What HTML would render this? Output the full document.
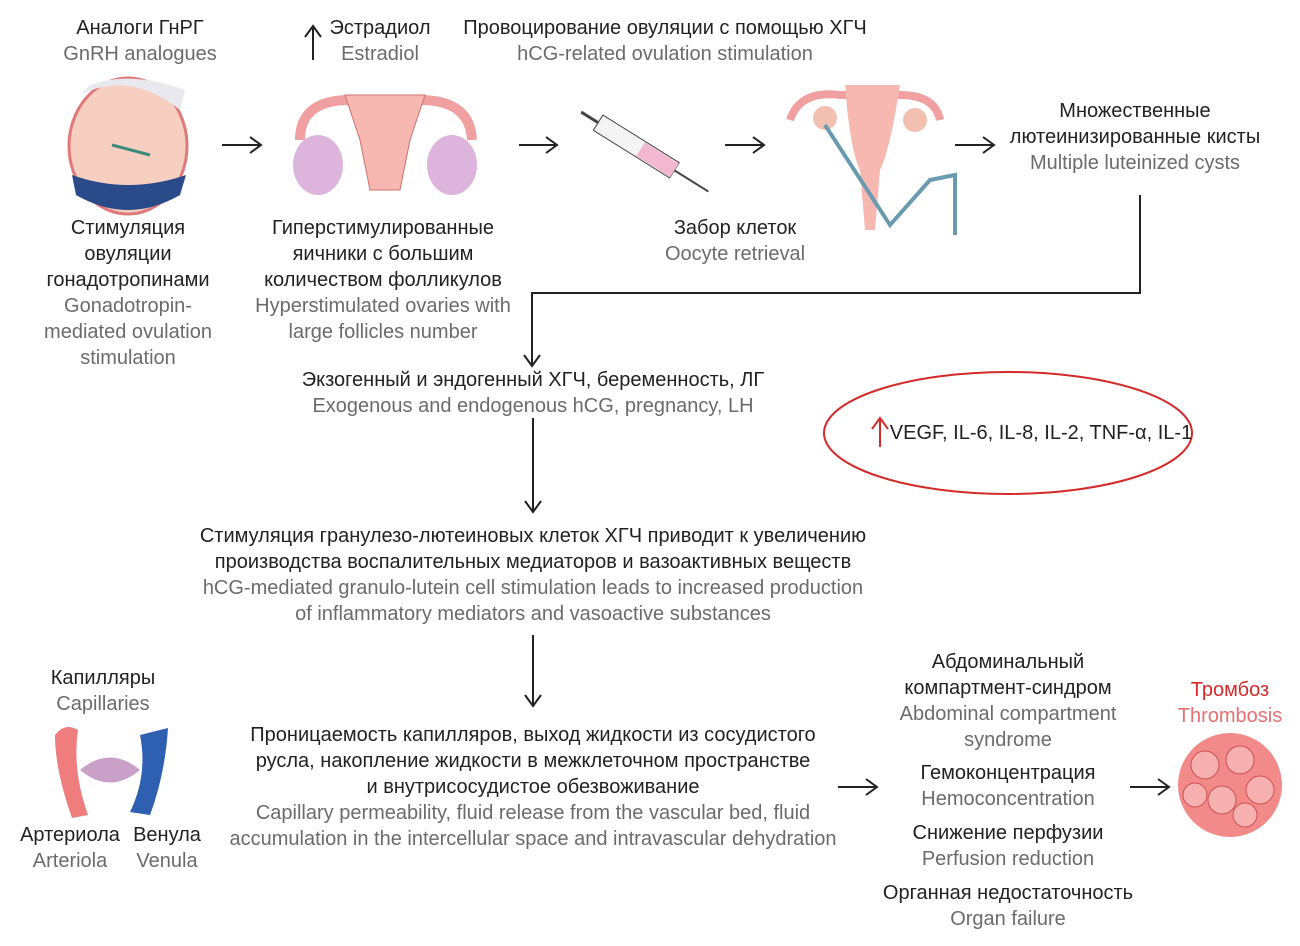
<!DOCTYPE html>
<html><head><meta charset="utf-8">
<style>
body{margin:0;width:1300px;height:946px;background:#fff;position:relative;overflow:hidden;font-family:"Liberation Sans Narrow","Liberation Sans",sans-serif;font-size:20px;color:#222}
.t{position:absolute;text-align:center;line-height:26px;white-space:nowrap;transform:translateX(-50%)}
.g{color:#6b6b6b}
svg{position:absolute;left:0;top:0}
</style></head><body>
<svg width="1300" height="946" viewBox="0 0 1300 946">
<defs><marker id="a" markerWidth="16" markerHeight="18" refX="13" refY="9" orient="auto" markerUnits="userSpaceOnUse"><path d="M2,1 L13,9 L2,17" fill="none" stroke="#222" stroke-width="2"/></marker></defs>
<g stroke="#222" stroke-width="2" fill="none">
<line x1="222" y1="145" x2="261" y2="145" marker-end="url(#a)"/>
<line x1="519" y1="145" x2="557" y2="145" marker-end="url(#a)"/>
<line x1="725" y1="145" x2="764" y2="145" marker-end="url(#a)"/>
<line x1="955" y1="145" x2="994" y2="145" marker-end="url(#a)"/>
<polyline points="1140,195 1140,293 532,293 532,366" marker-end="url(#a)"/>
<line x1="533" y1="418" x2="533" y2="512" marker-end="url(#a)"/>
<line x1="533" y1="635" x2="533" y2="706" marker-end="url(#a)"/>
<line x1="838" y1="787" x2="877" y2="787" marker-end="url(#a)"/>
<line x1="1130" y1="787" x2="1169" y2="787" marker-end="url(#a)"/>
<line x1="313" y1="60" x2="313" y2="27"/><path d="M305,37 L313,26 L321,37"/>
</g>
<ellipse cx="1008" cy="433" rx="184" ry="61" fill="none" stroke="#d42a2a" stroke-width="2"/>
<g stroke="#d42a2a" stroke-width="2" fill="none"><line x1="880" y1="447" x2="880" y2="419"/><path d="M872,429 L880,418 L888,429"/></g>
<!-- woman -->
<ellipse cx="128" cy="146" rx="59" ry="68" fill="#f6cfc0" stroke="#e07a7a" stroke-width="3"/>
<path d="M72,175 Q128,195 186,175 L180,195 Q128,225 76,195Z" fill="#2a4a8a"/>
<path d="M80,95 Q130,70 180,110 L185,90 Q130,70 90,85Z" fill="#e8e8ee"/>
<line x1="112" y1="145" x2="150" y2="155" stroke="#3a8a7a" stroke-width="3"/>
<!-- uterus -->
<path d="M300,140 Q300,100 350,100 L420,100 Q470,100 472,140" fill="none" stroke="#f0a0a0" stroke-width="10"/>
<path d="M345,95 L425,95 L410,140 L400,190 L370,190 L360,140Z" fill="#f6b8b0" stroke="#d07070"/>
<ellipse cx="318" cy="165" rx="25" ry="30" fill="#dcb4dc"/>
<ellipse cx="452" cy="165" rx="25" ry="30" fill="#dcb4dc"/>
<!-- syringe -->
<g transform="rotate(32 640 150)"><rect x="590" y="140" width="90" height="18" fill="#f4f4f4" stroke="#444"/><rect x="640" y="141" width="40" height="16" fill="#f2b8d0"/><line x1="680" y1="149" x2="720" y2="149" stroke="#444" stroke-width="2"/><line x1="570" y1="149" x2="590" y2="149" stroke="#444" stroke-width="3"/></g>
<!-- uterus w probe -->
<path d="M790,120 Q800,90 840,95 L900,95 Q935,95 940,120" fill="none" stroke="#f0a0a0" stroke-width="8"/>
<path d="M845,85 L900,85 Q890,150 880,170 L875,230 L865,230 L860,170 Q850,150 845,85Z" fill="#f6b8b0"/>
<circle cx="825" cy="118" r="12" fill="#f2c0b0"/><circle cx="915" cy="120" r="12" fill="#f2c0b0"/>
<path d="M825,125 L890,225 L930,180 L955,175 L955,235" fill="none" stroke="#6a9ab0" stroke-width="4"/>
<!-- capillaries -->
<path d="M55,735 Q65,722 78,730 Q72,770 88,815 L72,818 Q55,770 55,735Z" fill="#f07d7d"/>
<path d="M140,735 L168,728 Q165,775 150,815 L130,812 Q148,775 140,735Z" fill="#2f5fb0"/>
<path d="M80,770 Q110,745 140,770 Q110,795 80,770Z" fill="#c8a0c8"/>
<!-- thrombus -->
<ellipse cx="1230" cy="785" rx="52" ry="52" fill="#f28a8a"/>
<g fill="#f6b0b0" stroke="#d05050"><circle cx="1205" cy="765" r="14"/><circle cx="1240" cy="760" r="14"/><circle cx="1260" cy="790" r="14"/><circle cx="1222" cy="800" r="14"/><circle cx="1195" cy="795" r="12"/><circle cx="1245" cy="815" r="12"/></g>
</svg>
<div class="t" style="left:140px;top:15px">Аналоги ГнРГ<br><span class="g">GnRH analogues</span></div>
<div class="t" style="left:380px;top:15px">Эстрадиол<br><span class="g">Estradiol</span></div>
<div class="t" style="left:665px;top:15px">Провоцирование овуляции с помощью ХГЧ<br><span class="g">hCG-related ovulation stimulation</span></div>
<div class="t" style="left:1135px;top:98px">Множественные<br>лютеинизированные кисты<br><span class="g">Multiple luteinized cysts</span></div>
<div class="t" style="left:128px;top:215px">Стимуляция<br>овуляции<br>гонадотропинами<br><span class="g">Gonadotropin-<br>mediated ovulation<br>stimulation</span></div>
<div class="t" style="left:383px;top:215px">Гиперстимулированные<br>яичники с большим<br>количеством фолликулов<br><span class="g">Hyperstimulated ovaries with<br>large follicles number</span></div>
<div class="t" style="left:735px;top:215px">Забор клеток<br><span class="g">Oocyte retrieval</span></div>
<div class="t" style="left:533px;top:367px">Экзогенный и эндогенный ХГЧ, беременность, ЛГ<br><span class="g">Exogenous and endogenous hCG, pregnancy, LH</span></div>
<div class="t" style="left:1041px;top:420px">VEGF, IL-6, IL-8, IL-2, TNF-α, IL-1</div>
<div class="t" style="left:533px;top:523px">Стимуляция гранулезо-лютеиновых клеток ХГЧ приводит к увеличению<br>производства воспалительных медиаторов и вазоактивных веществ<br><span class="g">hCG-mediated granulo-lutein cell stimulation leads to increased production<br>of inflammatory mediators and vasoactive substances</span></div>
<div class="t" style="left:533px;top:722px">Проницаемость капилляров, выход жидкости из сосудистого<br>русла, накопление жидкости в межклеточном пространстве<br>и внутрисосудистое обезвоживание<br><span class="g">Capillary permeability, fluid release from the vascular bed, fluid<br>accumulation in the intercellular space and intravascular dehydration</span></div>
<div class="t" style="left:1008px;top:649px">Абдоминальный<br>компартмент-синдром<br><span class="g">Abdominal compartment<br>syndrome</span></div>
<div class="t" style="left:1008px;top:760px">Гемоконцентрация<br><span class="g">Hemoconcentration</span></div>
<div class="t" style="left:1008px;top:820px">Снижение перфузии<br><span class="g">Perfusion reduction</span></div>
<div class="t" style="left:1008px;top:880px">Органная недостаточность<br><span class="g">Organ failure</span></div>
<div class="t" style="left:1230px;top:677px;color:#d42a2a">Тромбоз<br><span style="color:#e87070">Thrombosis</span></div>
<div class="t" style="left:103px;top:665px">Капилляры<br><span class="g">Capillaries</span></div>
<div class="t" style="left:70px;top:822px">Артериола<br><span class="g">Arteriola</span></div>
<div class="t" style="left:167px;top:822px">Венула<br><span class="g">Venula</span></div>
</body></html>
